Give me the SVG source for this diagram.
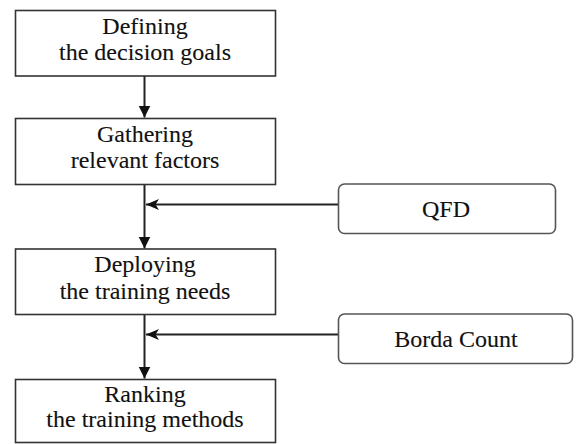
<svg xmlns="http://www.w3.org/2000/svg" width="577" height="444" viewBox="0 0 577 444">
<defs>
<marker id="down" markerWidth="12" markerHeight="14" refX="12" refY="6" orient="auto" markerUnits="userSpaceOnUse" viewBox="0 0 12 14">
<path d="M0,0 L12,6 L0,12 Z" fill="#111"/>
</marker>
<marker id="left" markerWidth="13" markerHeight="12" refX="13" refY="6" orient="auto" markerUnits="userSpaceOnUse" viewBox="0 0 13 12">
<path d="M0,0.5 L13,6 L0,11.5 L3.5,6 Z" fill="#111"/>
</marker>
</defs>
<style>
.box{fill:#fff;stroke:#333;stroke-width:1.6}
.rbox{fill:#fff;stroke:#555;stroke-width:1.6}
.t{font-family:'Liberation Serif','Times New Roman',serif;font-size:24px;fill:#111;stroke:#111;stroke-width:0.12;text-anchor:middle}
.c{stroke:#222;stroke-width:2;fill:none}
</style>
<rect width="577" height="444" fill="#fff"/>
<g id="connectors">
<line class="c" x1="144.5" y1="76" x2="144.5" y2="117.5" marker-end="url(#down)"/>
<line class="c" x1="144.5" y1="184.5" x2="144.5" y2="248.5" marker-end="url(#down)"/>
<line class="c" x1="144.5" y1="314.5" x2="144.5" y2="378.5" marker-end="url(#down)"/>
<line class="c" x1="338" y1="204.5" x2="146" y2="204.5" marker-end="url(#left)"/>
<line class="c" x1="338" y1="334.5" x2="146" y2="334.5" marker-end="url(#left)"/>
</g>
<g id="n1">
<rect class="box" x="15.5" y="10.5" width="260" height="65.5"/>
<text class="t" x="145" y="33.5">Defining</text>
<text class="t" x="145" y="60">the decision goals</text>
</g>
<g id="n2">
<rect class="box" x="15.5" y="118.5" width="260" height="66"/>
<text class="t" x="145" y="141.5">Gathering</text>
<text class="t" x="145" y="168">relevant factors</text>
</g>
<g id="n3">
<rect class="box" x="15.5" y="249" width="260" height="65.5"/>
<text class="t" x="145" y="272">Deploying</text>
<text class="t" x="145" y="298.5">the training needs</text>
</g>
<g id="n4">
<rect class="box" x="15.5" y="379.5" width="260" height="63"/>
<text class="t" x="145" y="402">Ranking</text>
<text class="t" x="145" y="427">the training methods</text>
</g>
<g id="qfd">
<rect class="rbox" x="338.5" y="184" width="217" height="49.5" rx="6"/>
<text class="t" x="446" y="217">QFD</text>
</g>
<g id="borda">
<rect class="rbox" x="338.5" y="314" width="234" height="49.5" rx="6"/>
<text class="t" x="456" y="347">Borda Count</text>
</g>
</svg>
